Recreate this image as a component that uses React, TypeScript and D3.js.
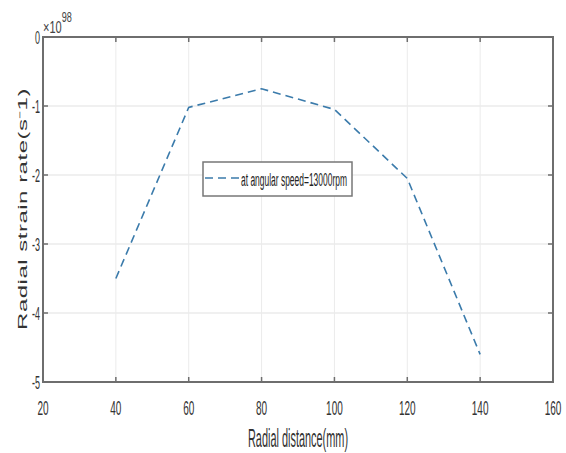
import * as React from 'react';
import * as d3 from 'd3';

const distances = [40, 60, 80, 100, 120, 140];
const strainRates = [-3.5, -1.02, -0.75, -1.05, -2.05, -4.6];
const xTicks = [20, 40, 60, 80, 100, 120, 140, 160];
const yTicks = [0, -1, -2, -3, -4, -5];
const legendLabel = 'at angular speed=13000rpm';

const W = 566;
const H = 453;
const left = 43;
const right = 553;
const top = 37;
const bottom = 382;

const font = '"Liberation Sans", Arial, sans-serif';

// text squeezed sideways, like the narrow font in the original
const Narrow: React.FC<{
  x: number;
  y: number;
  size: number;
  anchor?: 'start' | 'middle' | 'end';
  sx?: number;
  fill?: string;
  children: React.ReactNode;
}> = ({ x, y, size, anchor = 'start', sx = 0.5, fill = '#333', children }) => (
  <text
    transform={`translate(${x}, ${y}) scale(${sx}, 1)`}
    textAnchor={anchor}
    fontFamily={font}
    fontSize={size}
    fill={fill}
  >
    {children}
  </text>
);

const App: React.FC = () => {
  const x = d3.scaleLinear().domain([20, 160]).range([left, right]);
  const y = d3.scaleLinear().domain([-5, 0]).range([bottom, top]);

  const line = d3
    .line<number>()
    .x((_, i) => x(distances[i]))
    .y((d) => y(d));

  const path = line(strainRates) || '';
  const axisColor = '#6e6e6e';
  const lineColor = '#3b7bab';

  return (
    <svg
      width={W}
      height={H}
      style={{ position: 'absolute', left: 0, top: 0, background: '#fff' }}
    >
      {/* Grid */}
      {xTicks.map((t) => (
        <line key={'gx' + t} x1={x(t)} x2={x(t)} y1={top} y2={bottom} stroke="#ebebeb" strokeWidth={1} />
      ))}
      {yTicks.map((t) => (
        <line key={'gy' + t} x1={left} x2={right} y1={y(t)} y2={y(t)} stroke="#ebebeb" strokeWidth={1.5} />
      ))}

      {/* Box */}
      <rect x={left} y={top} width={right - left} height={bottom - top} fill="none" stroke={axisColor} strokeWidth={2} />

      {/* Ticks */}
      {xTicks.map((t) => (
        <g key={'tx' + t}>
          <line x1={x(t)} x2={x(t)} y1={bottom} y2={bottom - 5} stroke={axisColor} strokeWidth={1.5} />
          <line x1={x(t)} x2={x(t)} y1={top} y2={top + 5} stroke={axisColor} strokeWidth={1.5} />
          <Narrow x={x(t)} y={415} size={20} anchor="middle" sx={0.5}>
            {t}
          </Narrow>
        </g>
      ))}
      {yTicks.map((t) => (
        <g key={'ty' + t}>
          <line x1={left} x2={left + 5} y1={y(t)} y2={y(t)} stroke={axisColor} strokeWidth={1.5} />
          <line x1={right} x2={right - 5} y1={y(t)} y2={y(t)} stroke={axisColor} strokeWidth={1.5} />
          <Narrow x={left - 3} y={y(t) + 7} size={18} anchor="end" sx={0.5}>
            {t}
          </Narrow>
        </g>
      ))}

      {/* Exponent */}
      <Narrow x={43} y={33} size={17} sx={0.65} fill="#444">
        ×10
        <tspan dy={-11} fontSize={14}>98</tspan>
      </Narrow>

      {/* Data */}
      <path d={path} fill="none" stroke={lineColor} strokeWidth={1.6} strokeDasharray="8,5" />

      {/* Legend */}
      <rect x={203} y={162} width={149} height={34} fill="#fff" stroke="#777" strokeWidth={1.5} />
      <line x1={205} x2={240} y1={178} y2={178} stroke={lineColor} strokeWidth={1.6} strokeDasharray="8,5" />
      <Narrow x={241} y={186} size={18} sx={0.47} fill="#222">
        {legendLabel}
      </Narrow>

      {/* Axis labels */}
      <Narrow x={298} y={447} size={26} anchor="middle" sx={0.42}>
        Radial distance(mm)
      </Narrow>
      <text
        transform={`translate(27, 209) rotate(-90) scale(1, 0.5)`}
        textAnchor="middle"
        fontFamily={font}
        fontSize={24}
        letterSpacing={0.5}
        fill="#333"
      >
        Radial strain rate(s⁻1)
      </text>
    </svg>
  );
};

export default App;
